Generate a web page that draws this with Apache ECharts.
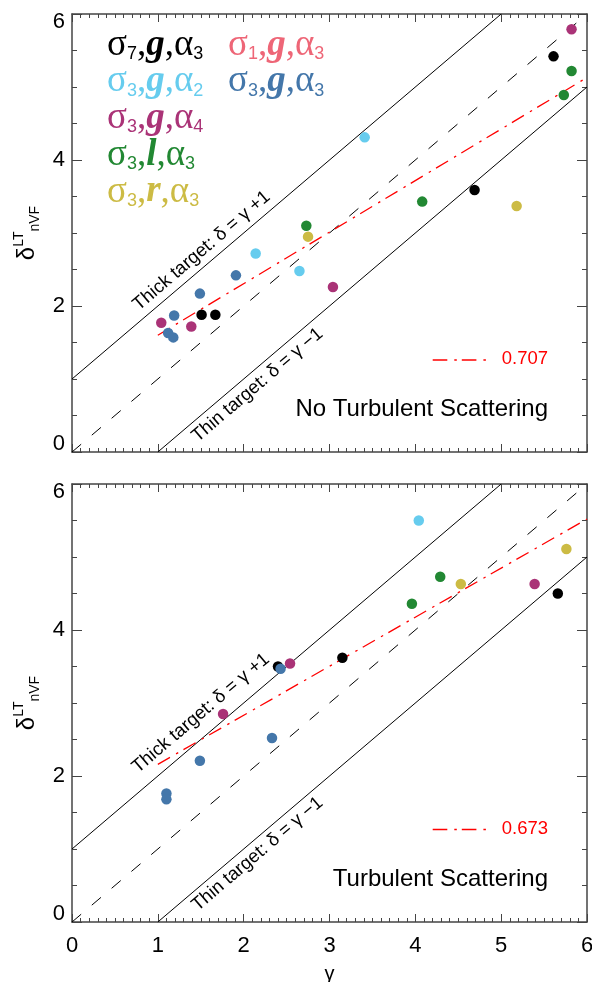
<!DOCTYPE html>
<html><head><meta charset="utf-8">
<script src="https://cdn.jsdelivr.net/npm/echarts@6/dist/echarts.min.js"></script>
<style>html,body{margin:0;padding:0;background:#fff}#c{width:592px;height:982px}</style>
</head><body><div id="c"></div>
<script>
// ---------- data ----------
const xTickLabels = ['0','1','2','3','4','5','6'];
const yTickLabels = ['0','2','4','6'];
// Top panel: No Turbulent Scattering
const topBlack   = [[1.51,1.88],[1.67,1.88],[4.69,3.59],[5.61,5.42]];
const topPink    = [];
const topCyan    = [[2.14,2.72],[2.65,2.48],[3.41,4.31]];
const topBlue    = [[1.19,1.87],[1.12,1.63],[1.18,1.57],[1.49,2.17],[1.91,2.42]];
const topMagenta = [[1.04,1.77],[1.39,1.72],[3.04,2.26],[5.82,5.79]];
const topGreen   = [[2.73,3.10],[4.08,3.43],[5.73,4.89],[5.82,5.22]];
const topYellow  = [[2.75,2.95],[5.18,3.37]];
const topFit     = [[1.0,1.60],[6.0,5.13]];
const topFitLabel = '0.707';
const topTitle = 'No Turbulent Scattering';
// Bottom panel: Turbulent Scattering
const botBlack   = [[2.40,3.50],[3.15,3.62],[5.66,4.50]];
const botPink    = [];
const botCyan    = [[4.04,5.50]];
const botBlue    = [[1.10,1.76],[1.10,1.68],[1.49,2.21],[2.33,2.52],[2.43,3.47]];
const botMagenta = [[1.76,2.85],[2.54,3.54],[5.39,4.63]];
const botGreen   = [[3.96,4.36],[4.29,4.73]];
const botYellow  = [[4.53,4.63],[5.76,5.11]];
const botFit     = [[1.0,2.16],[6.0,5.52]];
const botFitLabel = '0.673';
const botTitle = 'Turbulent Scattering';
// reference lines
const thickLine = [[0,1],[5,6]];
const thinLine  = [[1,0],[6,5]];
const equalLine = [[0,0],[6,6]];
const thickText = 'Thick target: \u03b4 = \u03b3 +1';
const thinText  = 'Thin target: \u03b4 = \u03b3 \u22121';
// legend entries: sigma index, letter, alpha index
const legSigma  = ['7','1','3','3','3','3','3'];
const legLetter = ['g','g','g','g','g','l','r'];
const legAlpha  = ['3','3','2','3','4','3','3'];

// ---------- style ----------
const C = {black:'#000000', pink:'#EE6677', cyan:'#66CCEE', blue:'#4477AA', magenta:'#AA3377', green:'#228833', yellow:'#CCBB44', red:'#FF0000'};
const legColors = [C.black, C.pink, C.cyan, C.blue, C.magenta, C.green, C.yellow];
const legPos = [[107,45],[228,45],[107,81.7],[228,81.7],[107,118.4],[107,155.1],[107,191.8]];
const SANS = "'Liberation Sans', Helvetica, Arial, sans-serif";
const SERIF = "'Liberation Serif', 'Times New Roman', serif";
const AX = '#444';
const GL = 72, GW = 515, GH = 438, GT = [14, 484];

function xAxis(g, pos, labels){
  return {type:'value', gridIndex:g, position:pos, min:0, max:6, interval:1,
    axisLine:{show:true, onZero:false, lineStyle:{color:AX, width:1.5}},
    axisTick:{show:true, inside:true, length:8, lineStyle:{color:AX, width:1}},
    minorTick:{show:true, splitNumber:10, length:4, lineStyle:{color:AX, width:1}},
    splitLine:{show:false}, minorSplitLine:{show:false},
    axisLabel:{show:labels, margin:13, fontSize:22, color:'#000', fontFamily:SANS,
      formatter:(v)=>xTickLabels[Math.round(v)] || ''}};
}
function yAxis(g, pos, labels){
  return {type:'value', gridIndex:g, position:pos, min:0, max:6, interval:2,
    axisLine:{show:true, onZero:false, lineStyle:{color:AX, width:1.5}},
    axisTick:{show:true, inside:true, length:10, lineStyle:{color:AX, width:1}},
    minorTick:{show:true, splitNumber:4, length:5, lineStyle:{color:AX, width:1}},
    splitLine:{show:false}, minorSplitLine:{show:false},
    axisLabel:{show:labels, margin:7, fontSize:22, lineHeight:16, color:'#000', fontFamily:SANS,
      verticalAlignMinLabel:'bottom', verticalAlignMaxLabel:'top',
      formatter:(v)=>yTickLabels[Math.round(v/2)] || ''}};
}
function scatter(data, color, xi, yi){
  return {type:'scatter', xAxisIndex:xi, yAxisIndex:yi, data:data, symbol:'circle', symbolSize:10.5,
    itemStyle:{color:color, opacity:1}, z:5, silent:true, animation:false};
}
function line(data, color, type, xi, yi, w){
  return {type:'line', xAxisIndex:xi, yAxisIndex:yi, data:data, showSymbol:false, symbol:'none',
    lineStyle:{color:color, width:w||1, type:type}, z:3, silent:true, animation:false};
}
function panel(xi, yi, sets, fit){
  return [
    line(equalLine, '#000', [12,14], xi, yi),
    line(thickLine, '#000', 'solid', xi, yi),
    line(thinLine, '#000', 'solid', xi, yi),
    line(fit, C.red, [14,7,2.5,6], xi, yi, 1.3),
    scatter(sets[0], C.black, xi, yi),
    scatter(sets[1], C.pink, xi, yi),
    scatter(sets[2], C.cyan, xi, yi),
    scatter(sets[3], C.blue, xi, yi),
    scatter(sets[4], C.magenta, xi, yi),
    scatter(sets[5], C.green, xi, yi),
    scatter(sets[6], C.yellow, xi, yi)
  ];
}
const series = [].concat(
  panel(0, 0, [topBlack, topPink, topCyan, topBlue, topMagenta, topGreen, topYellow], topFit),
  panel(2, 2, [botBlack, botPink, botCyan, botBlue, botMagenta, botGreen, botYellow], botFit)
);

// ---------- graphic text ----------
const ANG = Math.atan2(73, 85.83);
const graphic = [];
const legRich = {
  s:{fontFamily:SERIF, fontSize:37, lineHeight:36},
  c:{fontFamily:SERIF, fontSize:37, lineHeight:36},
  g:{fontFamily:SERIF, fontSize:37, lineHeight:36, fontWeight:'bold', fontStyle:'italic'},
  n:{fontFamily:SANS, fontSize:18, lineHeight:21, verticalAlign:'bottom'}
};
for (let i=0;i<legSigma.length;i++){
  graphic.push({type:'text', x:legPos[i][0], y:legPos[i][1], silent:true,
    style:{text:'{s|\u03c3}{n|'+legSigma[i]+'}{c|,}{g|'+legLetter[i]+'}{c|,}{s|\u03b1}{n|'+legAlpha[i]+'}',
      rich:legRich, fill:legColors[i], align:'left', verticalAlign:'middle'}});
}
function rotLabel(txt, x, y){
  return {type:'text', x:x, y:y, rotation:ANG, silent:true,
    style:{text:txt, fontFamily:SANS, fontSize:18.5, fill:'#000', align:'center', verticalAlign:'middle'}};
}
graphic.push(rotLabel(thickText, 201.7, 250.8));
graphic.push(rotLabel(thinText, 257.5, 385));
graphic.push(rotLabel(thickText, 200.8, 713.3));
graphic.push(rotLabel(thinText, 257.5, 854));
function fitKey(y, label){
  graphic.push({type:'line', silent:true, shape:{x1:432.7, y1:y, x2:487, y2:y},
    style:{stroke:C.red, lineWidth:1.3, lineDash:[14.6,7,2.5,5]}});
  graphic.push({type:'text', x:501.7, y:y-1, silent:true,
    style:{text:label, fontFamily:SANS, fontSize:18.5, fill:C.red, align:'left', verticalAlign:'middle'}});
}
fitKey(360, topFitLabel);
fitKey(829.5, botFitLabel);
graphic.push({type:'text', x:548, y:409.5, silent:true,
  style:{text:topTitle, fontFamily:SANS, fontSize:24, fill:'#000', align:'right', verticalAlign:'middle'}});
graphic.push({type:'text', x:548, y:879, silent:true,
  style:{text:botTitle, fontFamily:SANS, fontSize:24, fill:'#000', align:'right', verticalAlign:'middle'}});
const yRich = {
  d:{fontFamily:SANS, fontSize:24, lineHeight:30},
  sup:{fontFamily:SANS, fontSize:14, lineHeight:14, verticalAlign:'top'},
  sub:{fontFamily:SANS, fontSize:14, lineHeight:14, verticalAlign:'bottom'}
};
[233, 703].forEach(function(yc){
  graphic.push({type:'text', x:27, y:yc, rotation:Math.PI/2, silent:true,
    style:{text:'{d|\u03b4}{sup|LT}{sub|nVF}', rich:yRich, fill:'#000', align:'center', verticalAlign:'middle'}});
});
graphic.push({type:'text', x:329.5, y:974, silent:true,
  style:{text:'\u03b3', fontFamily:SANS, fontSize:20, fill:'#000', align:'center', verticalAlign:'middle'}});

const chart = echarts.init(document.getElementById('c'), null, {renderer:'canvas'});
chart.setOption({
  animation:false,
  backgroundColor:'#fff',
  grid:[
    {left:GL, top:GT[0], width:GW, height:GH, containLabel:false, outerBoundsMode:'none'},
    {left:GL, top:GT[1], width:GW, height:GH, containLabel:false, outerBoundsMode:'none'}
  ],
  xAxis:[xAxis(0,'bottom',false), xAxis(0,'top',false), xAxis(1,'bottom',true), xAxis(1,'top',false)],
  yAxis:[yAxis(0,'left',true), yAxis(0,'right',false), yAxis(1,'left',true), yAxis(1,'right',false)],
  series:series,
  graphic:graphic
});
</script></body></html>
